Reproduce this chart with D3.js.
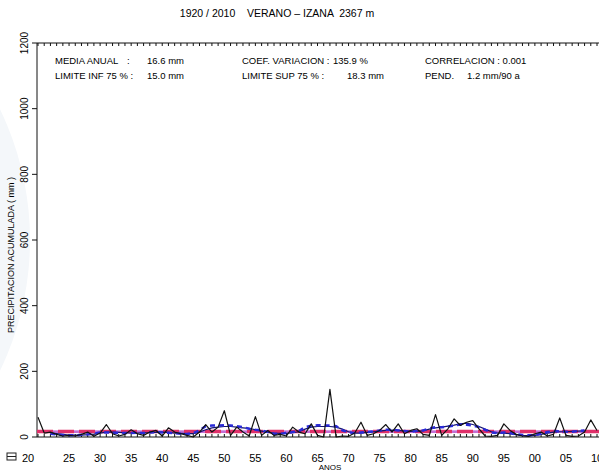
<!DOCTYPE html>
<html>
<head>
<meta charset="utf-8">
<script src="https://cdn.jsdelivr.net/npm/d3@7"></script>
<style>
  body { margin: 0; background: #fff; }
  svg { display: block; font-family: "Liberation Sans", Arial, sans-serif; }
</style>
</head>
<body>
<svg id="chart" width="599" height="471"></svg>
<script>
// annual summer precipitation, 1920-2010 (mm)
var years = d3.range(1920, 2011);
var precip = [60, 12, 15, 8, 3, 5, 3, 8, 15, 2,
              12, 38, 10, 3, 8, 22, 10, 5, 15, 20,
              3, 28, 15, 10, 5, 0, 15, 38, 15, 30,
              80, 5, 30, 15, 3, 62, 5, 20, 5, 8,
              3, 30, 15, 10, 40, 5, 0, 145, 0, 3,
              2, 12, 45, 5, 10, 20, 38, 15, 40, 10,
              20, 25, 8, 5, 68, 5, 25, 55, 35, 45,
              50, 25, 3, 2, 5, 40, 20, 8, 3, 2,
              10, 15, 3, 8, 58, 5, 2, 3, 15, 52, 20];

// smoothed curves (1922-2008)
var smoothYears = d3.range(1922, 2009);
var smoothA = [10, 8, 6, 5, 5, 7, 8, 10, 14, 14,
               13, 12, 12, 12, 13, 12, 14, 15, 14, 13,
               12, 10, 9, 12, 20, 33, 35, 35, 36, 35,
               33, 30, 25, 22, 20, 15, 10, 10, 12, 15,
               18, 30, 34, 36, 35, 35, 33, 20, 14, 12,
               14, 15, 17, 20, 22, 22, 20, 18, 16, 18,
               20, 26, 30, 30, 32, 35, 38, 37, 35, 30,
               22, 14, 12, 14, 12, 8, 6, 5, 6, 10,
               15, 18, 17, 16, 16, 18, 20];
var smoothB = [12, 10, 8, 6, 6, 6, 7, 9, 12, 15,
               15, 14, 13, 12, 12, 13, 13, 14, 15, 14,
               12, 11, 10, 10, 15, 22, 28, 30, 32, 32,
               30, 28, 26, 22, 18, 14, 12, 11, 11, 13,
               16, 24, 30, 32, 32, 32, 30, 24, 16, 12,
               12, 14, 16, 18, 20, 21, 20, 18, 17, 17,
               19, 24, 28, 30, 33, 36, 40, 42, 38, 32,
               24, 16, 12, 12, 10, 7, 5, 4, 5, 8,
               12, 15, 16, 16, 17, 18, 19];

var mediaAnual = 16.6;
var limInf = 15.0;
var limSup = 18.3;

var yTicks = [0, 200, 400, 600, 800, 1000, 1200];
var xLabelYears = d3.range(1920, 2011, 5);

var statsRow1 = [["MEDIA ANUAL", 55], [":", 127], ["16.6 mm", 147], ["COEF. VARIACION :", 242], ["135.9 %", 333], ["CORRELACION : 0.001", 425]];
var statsRow2 = [["LIMITE INF 75 % :", 55], ["15.0 mm", 147], ["LIMITE SUP 75 % :", 242], ["18.3 mm", 347], ["PEND.", 425], ["1.2 mm/90 a", 467]];

var svg = d3.select("#chart");
var plotL = 37, plotR = 599, plotT = 43, plotB = 437;

var x = d3.scaleLinear().domain([1920, 2010]).range([38, 597]);
var y = d3.scaleLinear().domain([0, 1200]).range([plotB, plotT]);

// faint watermark at the left edge
svg.append("circle")
    .attr("cx", -270).attr("cy", 240).attr("r", 300)
    .attr("fill", "#f4f7fa");

// title
svg.append("text")
    .attr("x", 277).attr("y", 17)
    .attr("text-anchor", "middle")
    .attr("font-size", 10.5)
    .attr("xml:space", "preserve")
    .text("1920 / 2010    VERANO \u2013 IZANA  2367 m");

// stats block
[statsRow1, statsRow2].forEach(function(row, i) {
    svg.append("g").selectAll("text")
        .data(row)
        .enter().append("text")
        .attr("x", function(d) { return d[1]; })
        .attr("y", 64 + i * 15)
        .attr("font-size", 9.5)
        .text(function(d) { return d[0]; });
});

// axes frame
svg.append("line").attr("x1", plotL).attr("x2", plotR).attr("y1", plotB).attr("y2", plotB).attr("stroke", "#111");
svg.append("line").attr("x1", plotL).attr("x2", plotR).attr("y1", plotT).attr("y2", plotT).attr("stroke", "#111");
svg.append("line").attr("x1", plotL).attr("x2", plotL).attr("y1", plotT).attr("y2", plotB).attr("stroke", "#111");

// yearly minor ticks, bottom (up) and top (down)
svg.append("g").selectAll("line")
    .data(years)
    .enter().append("line")
    .attr("x1", function(d) { return x(d); })
    .attr("x2", function(d) { return x(d); })
    .attr("y1", plotB).attr("y2", plotB - 3)
    .attr("stroke", "#111");
svg.append("g").selectAll("line")
    .data(years)
    .enter().append("line")
    .attr("x1", function(d) { return x(d); })
    .attr("x2", function(d) { return x(d); })
    .attr("y1", plotT).attr("y2", plotT + 3)
    .attr("stroke", "#111");

// y ticks + rotated labels
svg.append("g").selectAll("line")
    .data(yTicks)
    .enter().append("line")
    .attr("x1", plotL - 5).attr("x2", plotL)
    .attr("y1", function(d) { return y(d); })
    .attr("y2", function(d) { return y(d); })
    .attr("stroke", "#111");
svg.append("g").selectAll("text")
    .data(yTicks)
    .enter().append("text")
    .attr("transform", function(d) { return "translate(28," + y(d) + ") rotate(-90)"; })
    .attr("text-anchor", "middle")
    .attr("font-size", 10)
    .text(function(d) { return d; });

svg.append("text")
    .attr("transform", "translate(14,255) rotate(-90)")
    .attr("text-anchor", "middle")
    .attr("font-size", 9)
    .text("PRECIPITACION ACUMULADA ( mm )");

// x labels
svg.append("g").selectAll("text")
    .data(xLabelYears)
    .enter().append("text")
    .attr("x", function(d) { return d === 1920 ? 28 : x(d); })
    .attr("y", 462)
    .attr("text-anchor", "middle")
    .attr("font-size", 11)
    .text(function(d) { return d3.format("02")(d % 100); });
svg.append("rect").attr("x", 7).attr("y", 453).attr("width", 9).attr("height", 7)
    .attr("fill", "none").attr("stroke", "#222").attr("stroke-width", 1);
svg.append("line").attr("x1", 7).attr("x2", 16).attr("y1", 456.5).attr("y2", 456.5).attr("stroke", "#222");
svg.append("text")
    .attr("x", 330).attr("y", 470)
    .attr("text-anchor", "middle")
    .attr("font-size", 8)
    .text("ANOS");

// limits and mean
[limInf, limSup].forEach(function(v) {
    svg.append("line")
        .attr("x1", plotL).attr("x2", plotR)
        .attr("y1", y(v)).attr("y2", y(v))
        .attr("stroke", "#b040c8").attr("stroke-width", 1.2);
});
svg.append("line")
    .attr("x1", plotL).attr("x2", plotR)
    .attr("y1", y(mediaAnual)).attr("y2", y(mediaAnual))
    .attr("stroke", "#e0306a").attr("stroke-width", 3.5)
    .attr("stroke-dasharray", "16,5");

// smoothed curves
var lineS = d3.line()
    .x(function(d, i) { return x(smoothYears[i]); })
    .y(function(d) { return y(d); });
svg.append("path")
    .datum(smoothB)
    .attr("fill", "none")
    .attr("stroke", "#141470")
    .attr("stroke-width", 1.2)
    .attr("d", lineS);
svg.append("path")
    .datum(smoothA)
    .attr("fill", "none")
    .attr("stroke", "#2a2ad8")
    .attr("stroke-width", 2.5)
    .attr("stroke-dasharray", "5,4")
    .attr("d", lineS);

// annual series
var line = d3.line()
    .x(function(d, i) { return x(years[i]); })
    .y(function(d) { return y(d); });
svg.append("path")
    .datum(precip)
    .attr("fill", "none")
    .attr("stroke", "#111")
    .attr("stroke-width", 1.2)
    .attr("stroke-linejoin", "round")
    .attr("d", line);
</script>
</body>
</html>
